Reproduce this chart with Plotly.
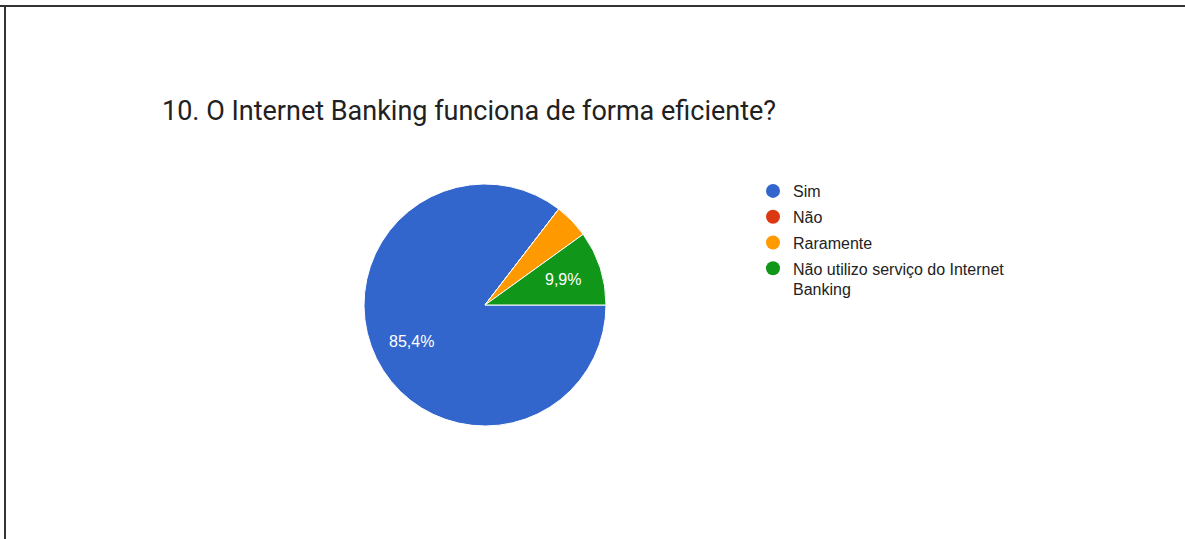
import math
import plotly.graph_objects as go

W, H = 1185, 539

title = "10. O Internet Banking funciona de forma eficiente?"
labels = ["Sim", "Não", "Raramente", "Não utilizo serviço do Internet<br>Banking"]
counts = [129, 0, 7, 15]
colors = ["#3366cc", "#dc3912", "#ff9900", "#109618"]

# pie geometry (pixels)
CX, CY, R = 485, 305, 121
ROT = 90  # first slice starts at 3 o'clock, clockwise

total = sum(counts)
fig = go.Figure()
fig.add_trace(go.Pie(
    labels=labels, values=counts, textinfo="none",
    sort=False, direction="clockwise", rotation=ROT,
    marker=dict(colors=colors, line=dict(color="white", width=1)),
    showlegend=False, hoverinfo="label+percent",
    domain=dict(x=[(CX - R) / W, (CX + R) / W], y=[(H - CY - R) / H, (H - CY + R) / H]),
))

# slice percentage labels, placed along each slice's mid-angle
annotations = []
cum = 0
for c in counts:
    frac = c / total
    mid = math.radians(ROT + 360 * (cum + frac / 2))
    cum += frac
    if frac >= 0.05:
        r = 0.68 * R
        px = CX + r * math.sin(mid)
        py = CY - r * math.cos(mid)
        annotations.append(dict(
            x=px / W, y=(H - py) / H, xref="paper", yref="paper",
            text=f"{100 * frac:.1f}%".replace(".", ","), showarrow=False,
            font=dict(family="Liberation Sans, Arial", size=16, color="white"),
            xanchor="center", yanchor="middle",
        ))

for lab, col in zip(labels, colors):
    fig.add_trace(go.Scatter(
        x=[None], y=[None], mode="markers", name=lab, legendgroup=lab,
        marker=dict(color=col, size=14, symbol="circle"),
    ))

fig.update_layout(
    width=W, height=H, margin=dict(l=0, r=0, t=0, b=0),
    paper_bgcolor="white", plot_bgcolor="white",
    xaxis=dict(visible=False), yaxis=dict(visible=False),
    title=dict(text=title, x=162 / W, xanchor="left", y=(H - 111) / H, yanchor="middle",
               font=dict(family="Roboto", size=27, color="#212121")),
    legend=dict(x=753 / W, xanchor="left", y=(H - 174) / H, yanchor="top",
                traceorder="grouped", tracegroupgap=2, valign="top",
                font=dict(family="Liberation Sans, Arial", size=16, color="#222222"),
                bgcolor="rgba(0,0,0,0)"),
    annotations=annotations,
    shapes=[
        dict(type="line", xref="paper", yref="paper", x0=0, x1=1, y0=(H - 6) / H, y1=(H - 6) / H,
             line=dict(color="#333333", width=2)),
        dict(type="line", xref="paper", yref="paper", x0=5 / W, x1=5 / W, y0=0, y1=(H - 6) / H,
             line=dict(color="#333333", width=2)),
    ],
)

fig.write_html("out.html")
